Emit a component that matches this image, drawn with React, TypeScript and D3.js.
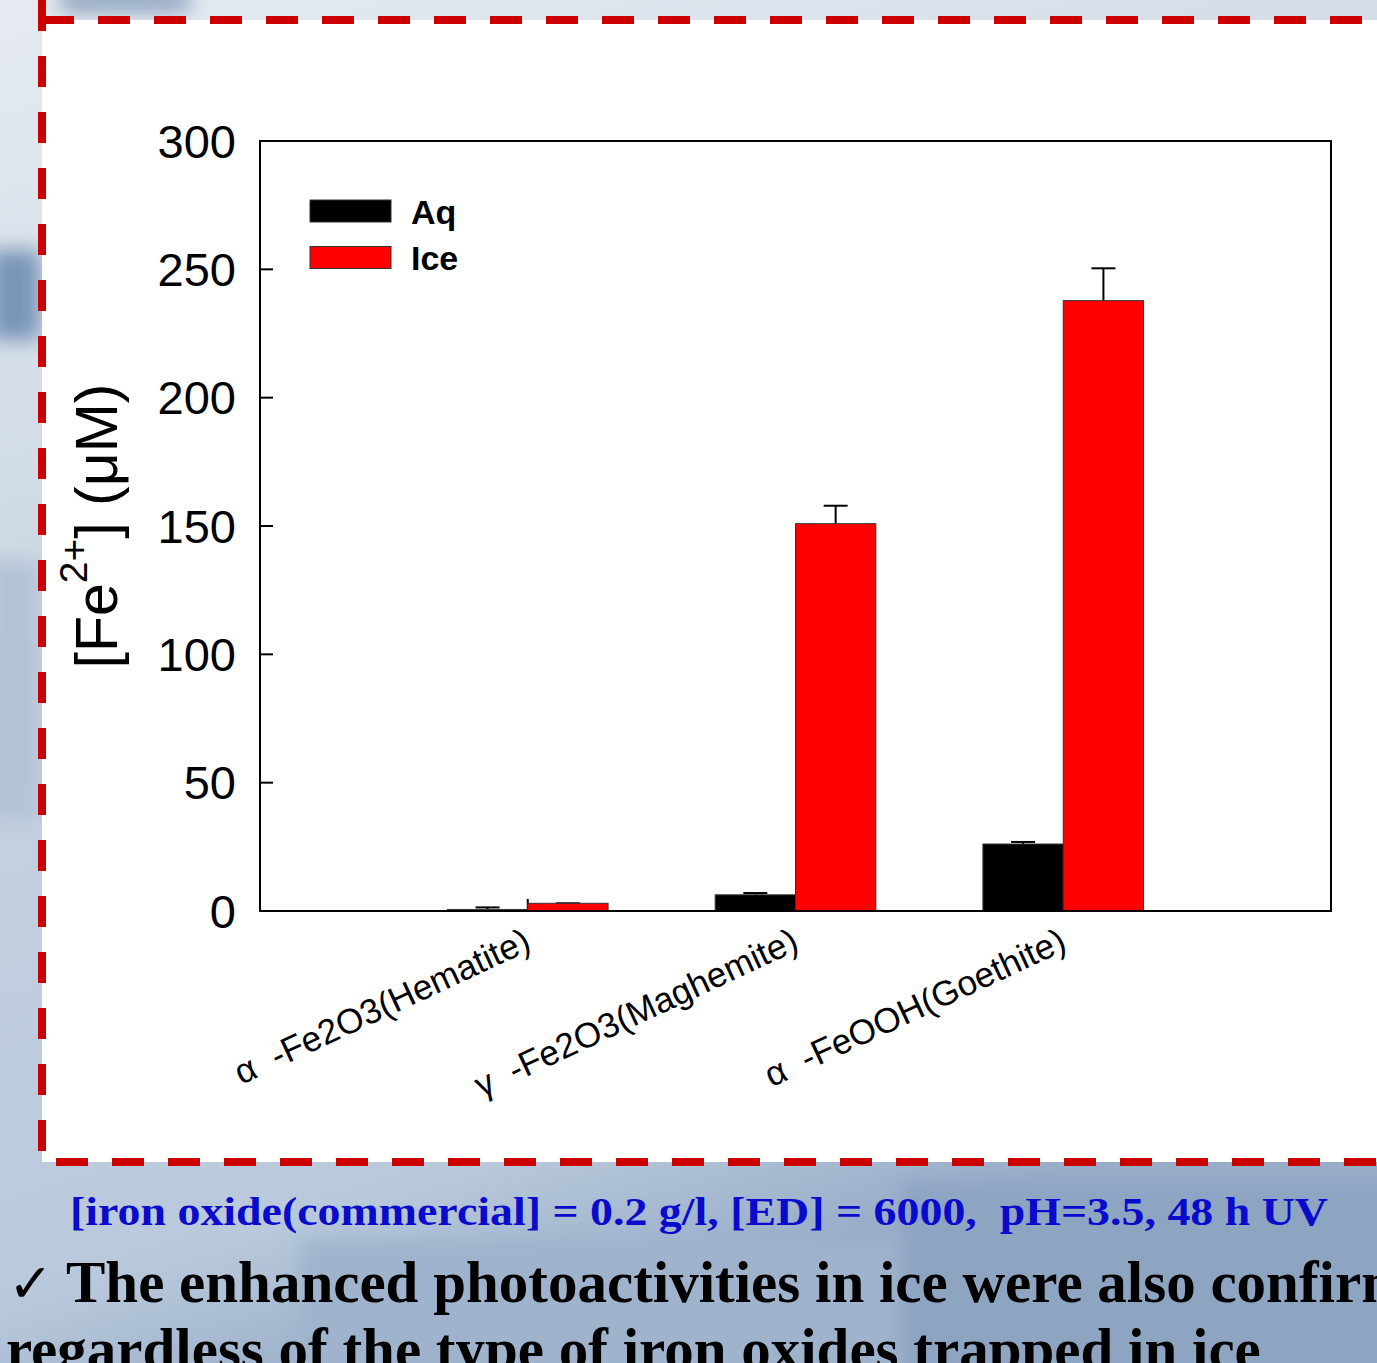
import React, { useEffect, useRef } from 'react';
import * as d3 from 'd3';

const categories = ['α  -Fe2O3(Hematite)', 'γ  -Fe2O3(Maghemite)', 'α  -FeOOH(Goethite)'];
const aqValues = [0.6, 6.3, 26.1];
const aqErrors = [0.8, 0.7, 0.8];
const iceValues = [3.0, 150.9, 237.8];
const iceErrors = [0, 7.0, 12.6];
const yTicks = [0, 50, 100, 150, 200, 250, 300];
const seriesNames = ['Aq', 'Ice'];
const seriesColors = ['#000000', '#ff0000'];
const captionText = '[iron oxide(commercial] = 0.2 g/l, [ED] = 6000,  pH=3.5, 48 h UV';
const bulletLines = [
  'The enhanced photoactivities in ice were also confirmed',
  'regardless of the type of iron oxides trapped in ice',
];

function App() {
  const svgRef = useRef(null);

  useEffect(() => {
    document.body.style.margin = '0';
    document.body.style.overflow = 'hidden';

    const W = 1377;
    const H = 1363;
    const plot = { left: 260, right: 1331, top: 141, bottom: 911 };

    const svg = d3.select(svgRef.current);
    svg.selectAll('*').remove();

    // slide background (icy photo, approximated)
    const defs = svg.append('defs');
    const bg = defs.append('linearGradient').attr('id', 'bg').attr('x1', 0).attr('y1', 0).attr('x2', 0.3).attr('y2', 1);
    bg.append('stop').attr('offset', '0%').attr('stop-color', '#e6ebf1');
    bg.append('stop').attr('offset', '55%').attr('stop-color', '#c3d0df');
    bg.append('stop').attr('offset', '88%').attr('stop-color', '#b9c9dc');
    bg.append('stop').attr('offset', '100%').attr('stop-color', '#98adc8');
    defs.append('filter').attr('id', 'blur').append('feGaussianBlur').attr('stdDeviation', 10);

    svg.append('rect').attr('width', W).attr('height', H).attr('fill', 'url(#bg)');
    const patches = svg.append('g').attr('filter', 'url(#blur)');
    patches.append('rect').attr('x', 60).attr('y', -10).attr('width', 130).attr('height', 22).attr('fill', '#8ba2be');
    patches.append('rect').attr('x', -10).attr('y', 250).attr('width', 50).attr('height', 90).attr('fill', '#7894b8');
    patches.append('rect').attr('x', -10).attr('y', 560).attr('width', 50).attr('height', 260).attr('fill', '#b3c3d6');
    patches.append('rect').attr('x', 300).attr('y', 1240).attr('width', 1100).attr('height', 140).attr('fill', '#9fb3cc');
    patches.append('rect').attr('x', 900).attr('y', 1180).attr('width', 500).attr('height', 200).attr('fill', '#8ea5c2');

    // white panel with red dashed frame
    svg.append('rect').attr('x', 42).attr('y', 20).attr('width', W).attr('height', 1142).attr('fill', '#ffffff');
    const dash = { stroke: '#cc0000', width: 8, array: '32 24' };
    svg.append('line').attr('x1', 42).attr('y1', 20).attr('x2', W).attr('y2', 20)
      .attr('stroke', dash.stroke).attr('stroke-width', dash.width).attr('stroke-dasharray', dash.array);
    svg.append('line').attr('x1', 42).attr('y1', 0).attr('x2', 42).attr('y2', 1166)
      .attr('stroke', dash.stroke).attr('stroke-width', dash.width).attr('stroke-dasharray', '31 25');
    svg.append('line').attr('x1', 56).attr('y1', 1162).attr('x2', W).attr('y2', 1162)
      .attr('stroke', dash.stroke).attr('stroke-width', dash.width).attr('stroke-dasharray', dash.array);

    const x = d3.scaleLinear().domain([0, categories.length + 1]).range([plot.left, plot.right]);
    const y = d3.scaleLinear().domain([0, 300]).range([plot.bottom, plot.top]);
    const barW = x(0.3) - x(0);

    const g = svg.append('g').attr('font-family', 'Arial, "Liberation Sans", sans-serif');

    // inward ticks (drawn under the bars)
    yTicks.forEach(t => {
      g.append('line').attr('x1', plot.left).attr('x2', plot.left + 13).attr('y1', y(t)).attr('y2', y(t))
        .attr('stroke', '#000').attr('stroke-width', 2);
      g.append('text').attr('x', 236).attr('y', y(t) + 16.5).attr('text-anchor', 'end')
        .attr('font-size', 47).text(t);
    });
    categories.forEach((c, i) => {
      g.append('line').attr('x1', x(i + 1)).attr('x2', x(i + 1)).attr('y1', plot.bottom).attr('y2', plot.bottom - 12)
        .attr('stroke', '#000').attr('stroke-width', 2);
    });

    // bars + error bars
    const series = [
      { values: aqValues, errors: aqErrors, offset: -barW },
      { values: iceValues, errors: iceErrors, offset: 0 },
    ];
    series.forEach((s, si) => {
      s.values.forEach((v, i) => {
        const x0 = x(i + 1) + s.offset;
        const cx = x0 + barW / 2;
        const top = y(v + s.errors[i]);
        g.append('line').attr('x1', cx).attr('x2', cx).attr('y1', y(v)).attr('y2', top)
          .attr('stroke', '#000').attr('stroke-width', 2);
        g.append('line').attr('x1', cx - 12).attr('x2', cx + 12).attr('y1', top).attr('y2', top)
          .attr('stroke', '#000').attr('stroke-width', 2);
        g.append('rect').attr('x', x0).attr('y', y(v)).attr('width', barW).attr('height', y(0) - y(v))
          .attr('fill', seriesColors[si]).attr('stroke', '#333').attr('stroke-width', 1);
      });
    });

    // frame
    g.append('rect').attr('x', plot.left).attr('y', plot.top)
      .attr('width', plot.right - plot.left).attr('height', plot.bottom - plot.top)
      .attr('fill', 'none').attr('stroke', '#000').attr('stroke-width', 2);

    // category labels
    categories.forEach((c, i) => {
      g.append('text')
        .attr('transform', `translate(${x(i + 1) + 5},949) rotate(-25)`)
        .attr('text-anchor', 'end').attr('font-size', 35)
        .style('white-space', 'pre')
        .text(c);
    });

    // y axis title
    const yt = g.append('text').attr('transform', 'translate(117,526) rotate(-90)')
      .attr('text-anchor', 'middle').attr('font-size', 59);
    yt.append('tspan').text('[Fe');
    yt.append('tspan').attr('font-size', 39).attr('dy', -30).text('2+');
    yt.append('tspan').attr('dy', 30).text('] (μM)');

    // legend
    seriesNames.forEach((n, i) => {
      const ly = 200 + i * 46.5;
      g.append('rect').attr('x', 310).attr('y', ly).attr('width', 81).attr('height', 22)
        .attr('fill', seriesColors[i]).attr('stroke', '#333').attr('stroke-width', 1);
      g.append('text').attr('x', 411).attr('y', ly + 23.5).attr('font-size', 34).attr('font-weight', 'bold').text(n);
    });

    // caption and bullet text
    const serif = '"Times New Roman", "Liberation Serif", serif';
    svg.append('text').attr('x', 70).attr('y', 1225).attr('font-family', serif).attr('font-weight', 'bold')
      .attr('font-size', 40).attr('fill', '#0a0acd').attr('textLength', 1258).attr('lengthAdjust', 'spacingAndGlyphs')
      .style('white-space', 'pre').text(captionText);
    svg.append('text').attr('x', 8).attr('y', 1302).attr('font-family', '"DejaVu Sans", sans-serif')
      .attr('font-size', 54).attr('fill', '#000').text('✓');
    svg.append('text').attr('x', 66).attr('y', 1302).attr('font-family', serif).attr('font-weight', 'bold')
      .attr('font-size', 59).attr('fill', '#000').text(bulletLines[0]);
    svg.append('text').attr('x', 6).attr('y', 1369).attr('font-family', serif).attr('font-weight', 'bold')
      .attr('font-size', 59).attr('fill', '#000').text(bulletLines[1]);
  }, []);

  return <svg ref={svgRef} width={1377} height={1363} style={{ display: 'block' }} />;
}

export default App;
